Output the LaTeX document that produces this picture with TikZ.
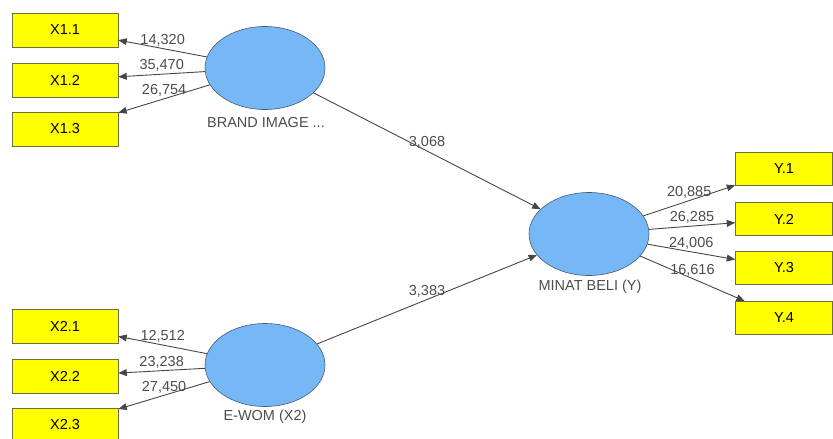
\documentclass[tikz,border=0pt]{standalone}
\usepackage{fontspec}
\setmainfont{Liberation Sans}
\usepackage{tikz}
\usetikzlibrary{arrows,shapes.geometric}

\definecolor{lvblue}{RGB}{118,184,245}
\definecolor{lvedge}{RGB}{70,90,120}
\definecolor{mvyellow}{RGB}{255,255,0}
\definecolor{mvedge}{RGB}{110,110,70}
\definecolor{pathgray}{RGB}{70,70,70}

\begin{document}
\begin{tikzpicture}[x=1pt,y=-1pt,>=triangle 45,
	latent/.style={ellipse,draw=lvedge,fill=lvblue,line width=0.6pt,minimum width=120pt,minimum height=83pt,inner sep=0pt},
	indic/.style={rectangle,draw=mvedge,fill=mvyellow,line width=0.9pt,minimum width=106pt,minimum height=34pt,inner sep=0pt,font=\fontsize{14.5}{16}\selectfont},
	yindic/.style={indic,minimum width=97pt,minimum height=33pt},
	latname/.style={text=black!70,font=\fontsize{14.5}{16}\selectfont},
	wt/.style={midway,above,text=black!70,inner sep=2pt,font=\fontsize{14.5}{16}\selectfont},
	conn/.style={->,draw=pathgray,line width=0.9pt}]
	\useasboundingbox (0,0) rectangle (833,439);

	% latent variables
	\node[latent] (brand) at (265,68) {};
	\node[latent] (ewom) at (265,365) {};
	\node[latent] (minat) at (589,234) {};
	\node[latname] (brandname) at (266,123) {BRAND IMAGE ...};
	\node[latname] (ewomname) at (265,417) {E-WOM (X2)};
	\node[latname] (minatname) at (590,287) {MINAT BELI (Y)};

	% indicators
	\node[indic] (x11) at (65,30) {X1.1};
	\node[indic] (x12) at (65,80) {X1.2};
	\node[indic] (x13) at (65,129) {X1.3};
	\node[indic] (x21) at (65,326) {X2.1};
	\node[indic] (x22) at (65,376) {X2.2};
	\node[indic] (x23) at (65,425) {X2.3};
	\node[yindic] (y1) at (784,169) {Y.1};
	\node[yindic] (y2) at (784,219) {Y.2};
	\node[yindic] (y3) at (784,268) {Y.3};
	\node[yindic] (y4) at (784,318) {Y.4};

	% outer loadings
	\draw[conn] (brand) -- node[wt] {14,320} (x11);
	\draw[conn] (brand) -- node[wt] {35,470} (x12);
	\draw[conn] (brand) -- node[wt] {26,754} (x13);
	\draw[conn] (ewom) -- node[wt] {12,512} (x21);
	\draw[conn] (ewom) -- node[wt] {23,238} (x22);
	\draw[conn] (ewom) -- node[wt] {27,450} (x23);
	\draw[conn] (minat) -- node[wt] {20,885} (y1);
	\draw[conn] (minat) -- node[wt] {26,285} (y2);
	\draw[conn] (minat) -- node[wt] {24,006} (y3);
	\draw[conn] (minat) -- node[wt] {16,616} (y4);

	% inner paths
	\draw[conn] (brand) -- node[wt] {3,068} (minat);
	\draw[conn] (ewom) -- node[wt] {3,383} (minat);
\end{tikzpicture}
\end{document}
